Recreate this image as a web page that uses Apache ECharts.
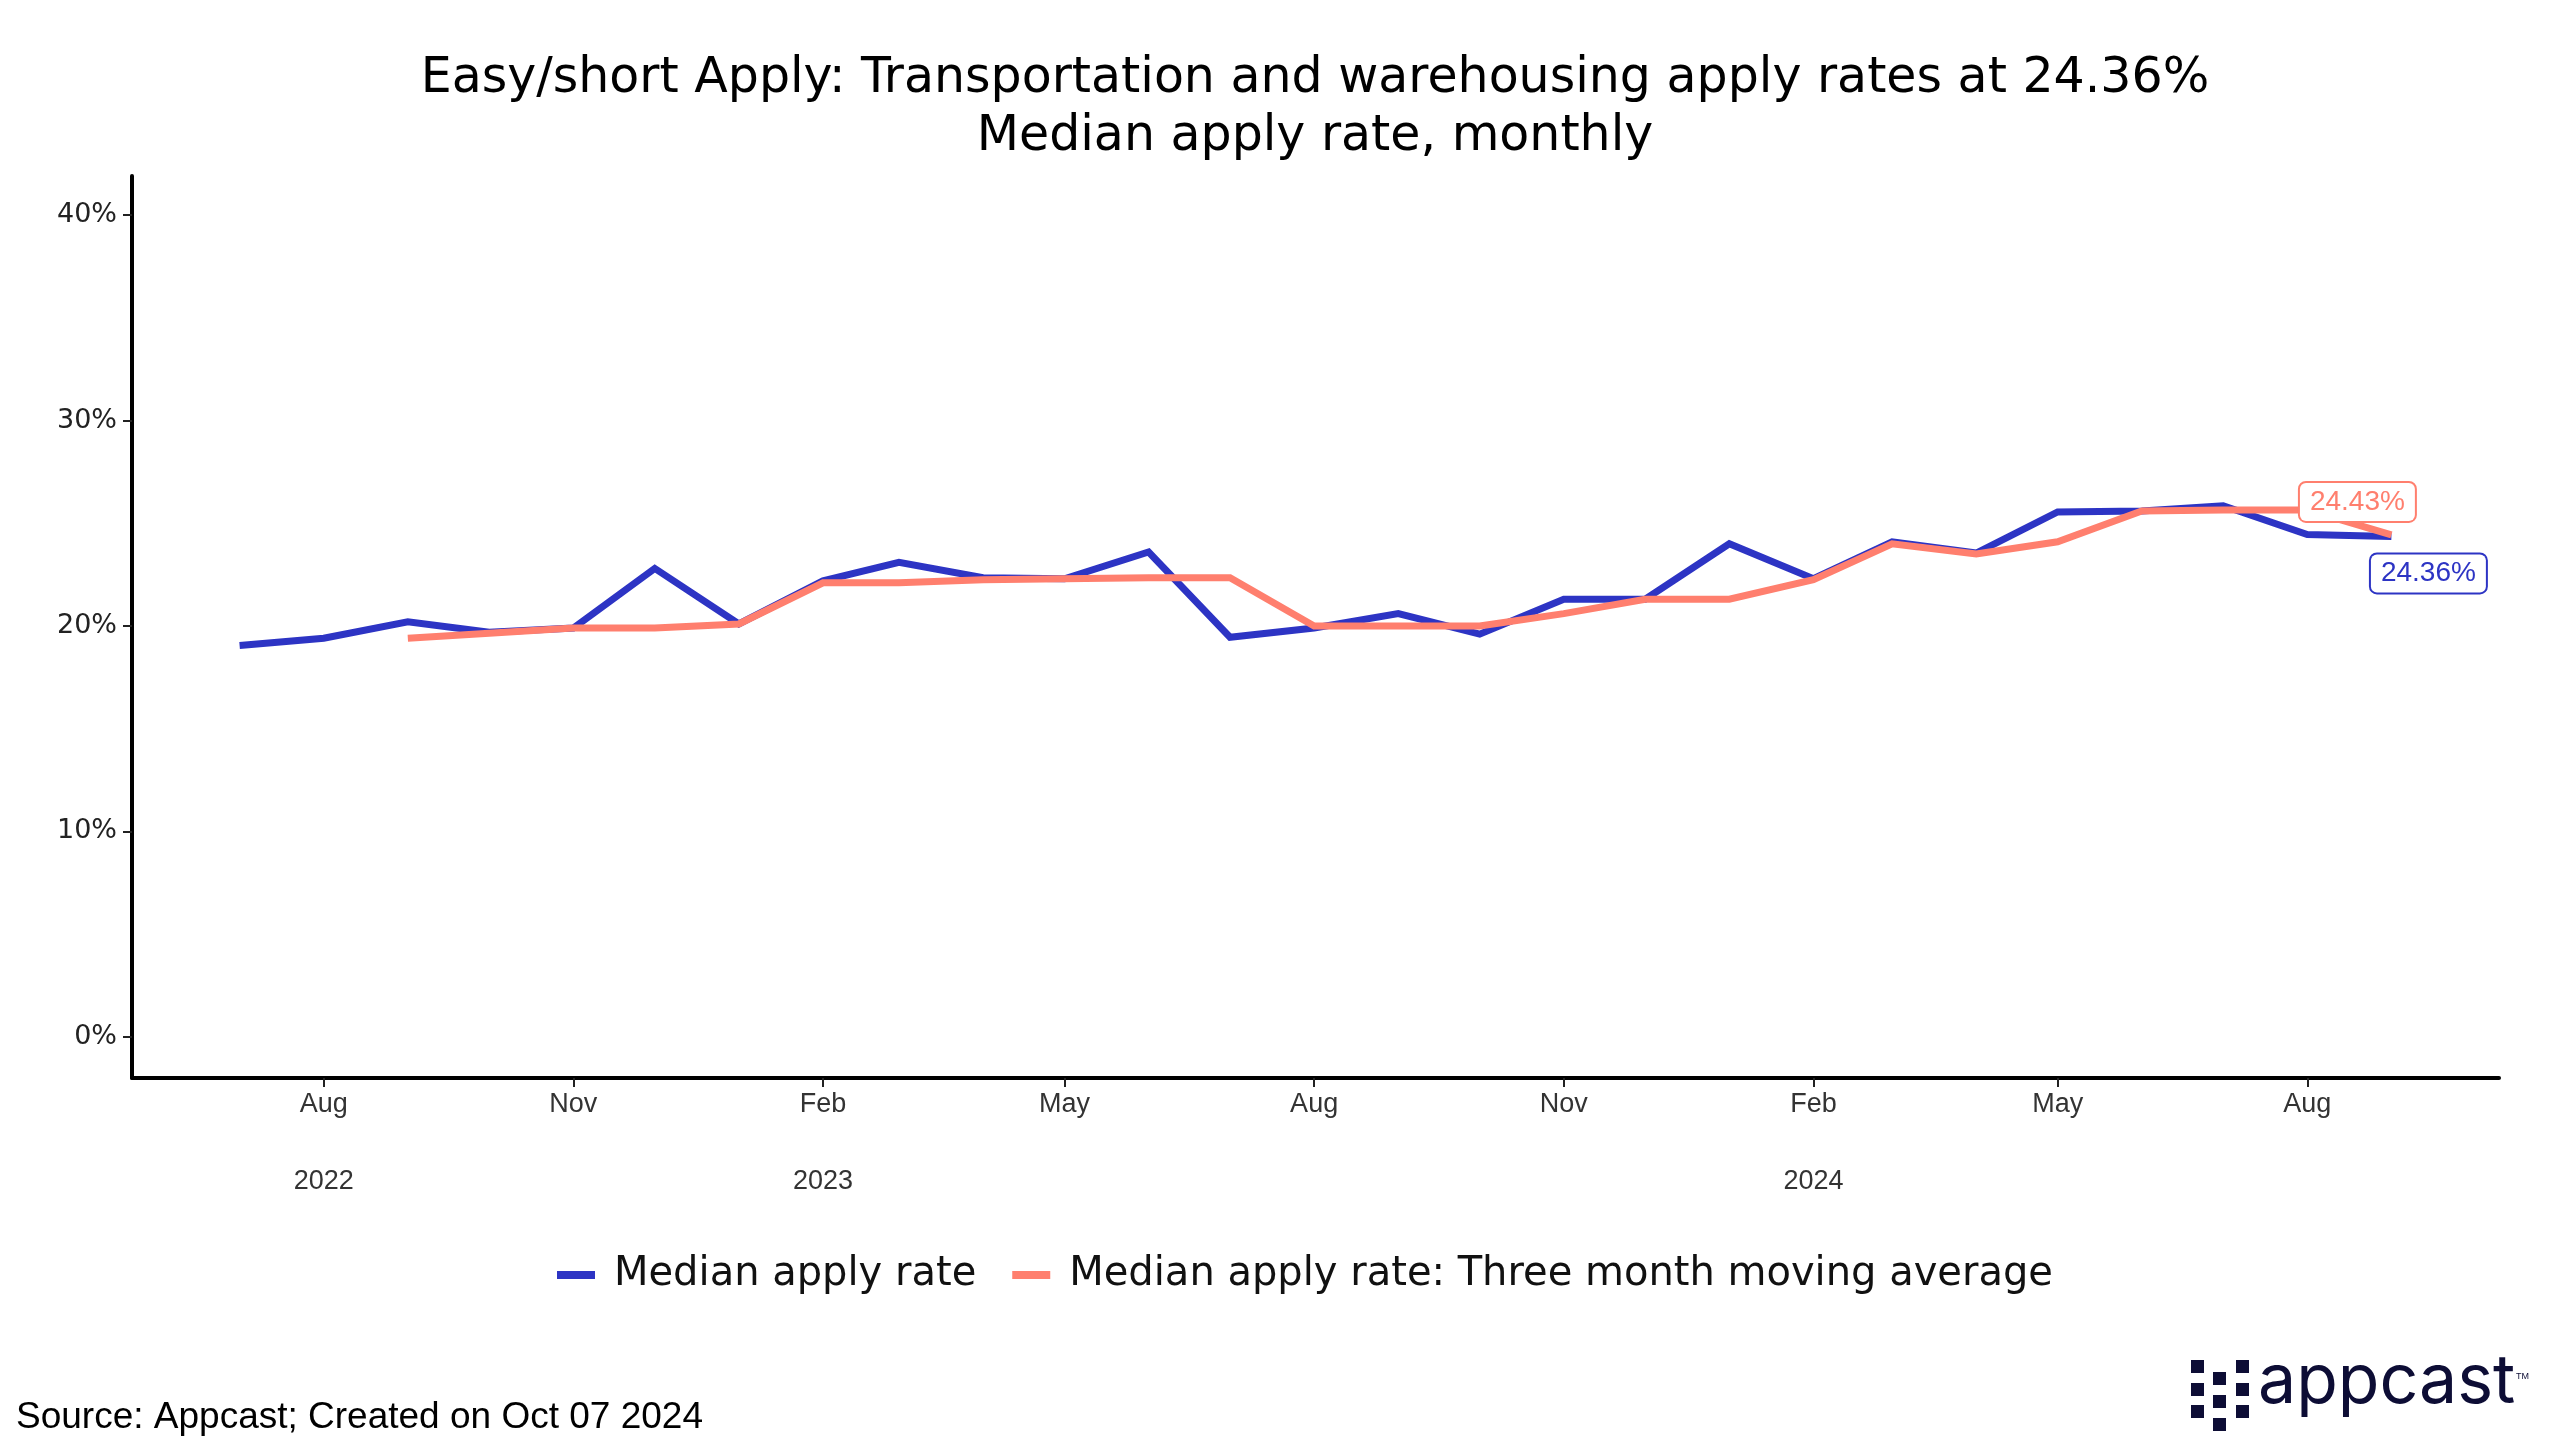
<!DOCTYPE html>
<html>
<head>
<meta charset="utf-8">
<script src="https://cdn.jsdelivr.net/npm/echarts@6/dist/echarts.min.js"></script>
<style>
html,body{margin:0;padding:0;background:#fff;}
#chart{width:2560px;height:1455px;}
</style>
</head>
<body>
<div id="chart"></div>
<script>
// ---- data ----
const months = ['2022-07','2022-08','2022-09','2022-10','2022-11','2022-12',
  '2023-01','2023-02','2023-03','2023-04','2023-05','2023-06','2023-07','2023-08','2023-09','2023-10','2023-11','2023-12',
  '2024-01','2024-02','2024-03','2024-04','2024-05','2024-06','2024-07','2024-08','2024-09'];
const medianRate = [19.05, 19.4, 20.2, 19.7, 19.9, 22.8,
  20.1, 22.2, 23.1, 22.35, 22.3, 23.6, 19.45, 19.9, 20.6, 19.6, 21.3, 21.3,
  24.0, 22.3, 24.1, 23.55, 25.55, 25.6, 25.85, 24.45, 24.36];
const movingAvg = [null, null, 19.4, 19.65, 19.9, 19.9,
  20.1, 22.1, 22.1, 22.25, 22.3, 22.35, 22.35, 20.0, 20.0, 20.0, 20.6, 21.3,
  21.3, 22.25, 24.0, 23.5, 24.1, 25.6, 25.65, 25.65, 24.43];
const monthTicks = ['2022-08','2022-11','2023-02','2023-05','2023-08','2023-11','2024-02','2024-05','2024-08'];
const monthTickLabels = ['Aug','Nov','Feb','May','Aug','Nov','Feb','May','Aug'];
const yearTicks = ['2022-08','2023-02','2024-02'];
const yearTickLabels = ['2022','2023','2024'];
const yTicks = [0, 10, 20, 30, 40];
const seriesNames = ['Median apply rate', 'Median apply rate: Three month moving average'];
const titleLines = ['Easy/short Apply: Transportation and warehousing apply rates at 24.36%', 'Median apply rate, monthly'];
const sourceText = 'Source: Appcast; Created on Oct 07 2024';

// ---- helpers ----
const DAY = 86400000;
function ts(s){ const p = s.split('-'); return Date.UTC(+p[0], +p[1]-1, 1) / DAY; } // days since epoch
const t0 = ts(months[0]), t1 = ts(months[months.length-1]);
const pad = (t1 - t0) * 0.05;
const monthTs = monthTicks.map(ts);
const yearTs = yearTicks.map(ts);

const BLUE = '#2D34C4';
const RED = '#FF7F6E';

const chart = echarts.init(document.getElementById('chart'), null, {renderer:'canvas'});

function labelFor(list, labels){
  return function(v){
    for (let i=0;i<list.length;i++){ if (Math.abs(list[i]-v) < 0.5) return labels[i]; }
    return '';
  };
}

// logo squares (style only)
const sq = 13;
const logoSquares = [];
[[2191,1360],[2191,1383],[2191,1405],[2213,1372],[2213,1395],[2213,1418],[2236,1360],[2236,1383],[2236,1405]]
  .forEach(p => logoSquares.push({type:'rect', shape:{x:p[0], y:p[1], width:sq, height:sq}, style:{fill:'#0D0D35'}}));

const option = {
  backgroundColor:'#fff',
  animation:false,
  grid:{left:132, right:61, top:176, bottom:377, containLabel:false},
  legend:{
    left:552, top:1250,
    itemWidth:38, itemHeight:8, itemGap:36,
    icon:'rect',
    textStyle:{fontFamily:'DejaVu Sans', fontSize:40, color:'#111', padding:[0,0,0,14]},
    data:seriesNames
  },
  xAxis:[{
    type:'value',
    min:t0 - pad, max:t1 + pad,
    axisLine:{show:true, onZero:false, lineStyle:{color:'#000', width:4}},
    axisTick:{show:true, customValues:monthTs, length:9, lineStyle:{color:'#222', width:2}},
    axisLabel:{customValues:monthTs, formatter:labelFor(monthTs, monthTickLabels), fontFamily:'Liberation Sans', fontSize:27, color:'#333', margin:13},
    splitLine:{show:false}
  },{
    type:'value',
    position:'bottom',
    min:t0 - pad, max:t1 + pad,
    axisLine:{show:false, onZero:false},
    axisTick:{show:false},
    axisLabel:{customValues:yearTs, formatter:labelFor(yearTs, yearTickLabels), fontFamily:'Liberation Sans', fontSize:27, color:'#333', margin:90},
    splitLine:{show:false}
  }],
  yAxis:{
    type:'value',
    min:-2, max:41.9,
    axisLine:{show:true, onZero:false, lineStyle:{color:'#000', width:4}},
    axisTick:{show:true, customValues:yTicks, length:9, lineStyle:{color:'#222', width:2}},
    axisLabel:{customValues:yTicks, formatter:v => v + '%', fontFamily:'DejaVu Sans', fontSize:27, color:'#222', margin:15},
    splitLine:{show:false}
  },
  series:[{
    name:seriesNames[0], type:'line', xAxisIndex:0,
    data:months.map((m,i)=>[ts(m), medianRate[i]]),
    showSymbol:false, symbol:'none',
    lineStyle:{color:BLUE, width:7, join:'miter'},
    itemStyle:{color:BLUE},
    endLabel:{show:true, formatter:p => p.value[1].toFixed(2) + '%',
      color:BLUE, backgroundColor:'#fff', borderColor:BLUE, borderWidth:2, borderRadius:6,
      padding:[6,10,4,10], fontFamily:'Liberation Sans', fontSize:28,
      align:'center', verticalAlign:'middle', distance:0, offset:[37,37]},
    z:2
  },{
    name:seriesNames[1], type:'line', xAxisIndex:0,
    data:months.map((m,i)=>[ts(m), movingAvg[i]]),
    connectNulls:false,
    showSymbol:false, symbol:'none',
    lineStyle:{color:RED, width:7, join:'miter'},
    itemStyle:{color:RED},
    endLabel:{show:true, formatter:p => p.value[1].toFixed(2) + '%',
      color:RED, backgroundColor:'#fff', borderColor:RED, borderWidth:2, borderRadius:6,
      padding:[6,10,4,10], fontFamily:'Liberation Sans', fontSize:28,
      align:'center', verticalAlign:'middle', distance:0, offset:[-34,-33]},
    z:3
  }],
  graphic:[
    {type:'text', x:1315, y:79, style:{text:titleLines[0], fontFamily:'DejaVu Sans', fontSize:49, fill:'#000', align:'center', verticalAlign:'middle'}},
    {type:'text', x:1315, y:137, style:{text:titleLines[1], fontFamily:'DejaVu Sans', fontSize:49, fill:'#000', align:'center', verticalAlign:'middle'}},
    {type:'text', x:16, y:1418, style:{text:sourceText, fontFamily:'Liberation Sans', fontSize:37, fill:'#000', verticalAlign:'middle'}},
    {type:'text', x:2258, y:1417, style:{text:'appcast', fontFamily:'Inter', fontSize:68, fill:'#0D0D35', verticalAlign:'bottom'}},
    {type:'text', x:2516, y:1372, style:{text:'TM', fontFamily:'Liberation Sans', fontSize:9, fill:'#0D0D35'}}
  ].concat(logoSquares)
};
chart.setOption(option);
</script>
</body>
</html>
